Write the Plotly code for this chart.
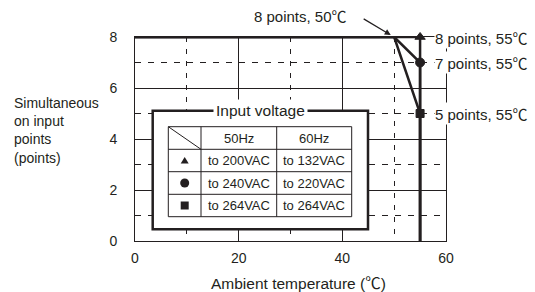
import plotly.graph_objects as go

# ---- data ----
temp_tri = [0, 55, 55]
pts_tri = [8, 8, 0]
temp_cir = [0, 50, 55, 55]
pts_cir = [8, 8, 7, 0]
temp_sq = [0, 50, 55, 55]
pts_sq = [8, 8, 5, 0]

x_ticks = [0, 20, 40, 60]
y_ticks = [0, 2, 4, 6, 8]

DEG = "<span style='font-family:Noto Sans CJK JP'>℃</span>"
point_labels = ["8 points, 55" + DEG, "7 points, 55" + DEG, "5 points, 55" + DEG]
label_y = [8, 7, 5]
top_label = "8 points, 50" + DEG

table_header = ["50Hz", "60Hz"]
table_50 = ["to 200VAC", "to 240VAC", "to 264VAC"]
table_60 = ["to 132VAC", "to 220VAC", "to 264VAC"]

INK = "#231f20"
FONT = "Liberation Sans, Arial, sans-serif"

# pixel -> paper helpers (decorations only)
def PX(px):
    return (px - 135) / 311

def PY(py):
    return (241 - py) / 204

fig = go.Figure()
for xs, ys, sym, sz in [(temp_tri, pts_tri, "triangle-up", 9),
                        (temp_cir, pts_cir, "circle", 9),
                        (temp_sq, pts_sq, "square", 8)]:
    n = len(xs)
    fig.add_trace(go.Scatter(
        x=xs, y=ys, mode="lines+markers",
        line=dict(color=INK, width=2.5),
        marker=dict(symbol=sym, size=[0] * (n - 2) + [sz, 0], color=INK, opacity=1,
                    line=dict(width=1, color=INK)),
        cliponaxis=False, showlegend=False, hoverinfo="skip"))

def line(x0, y0, x1, y1, w=1):
    return dict(type="line", xref="paper", yref="paper", x0=PX(x0), x1=PX(x1), y0=PY(y0), y1=PY(y1),
                line=dict(color=INK, width=w), layer="above")

shapes = []
shapes.append(dict(type="rect", xref="paper", yref="paper", x0=PX(152.7), x1=PX(368), y0=PY(110.7), y1=PY(229.3),
                   line=dict(color=INK, width=2.5), fillcolor="white", layer="above"))
shapes.append(dict(type="rect", xref="paper", yref="paper", x0=PX(168.3), x1=PX(351.7), y0=PY(126.7), y1=PY(216.7),
                   line=dict(color=INK, width=1), layer="above"))
for py in [149.3, 171.7, 194.3]:
    shapes.append(line(168.3, py, 351.7, py))
for px in [201, 276.7]:
    shapes.append(line(px, 126.7, px, 216.7))
shapes.append(line(168.3, 126.7, 201, 149.3))
cx = 184.7
ty = 160.5
shapes.append(dict(type="path", xref="paper", yref="paper",
                   path=f"M {PX(cx-4)} {PY(ty+3)} L {PX(cx+4)} {PY(ty+3)} L {PX(cx)} {PY(ty-3.5)} Z",
                   fillcolor=INK, line=dict(width=0), layer="above"))
cy = 183
shapes.append(dict(type="circle", xref="paper", yref="paper", x0=PX(cx-4.5), x1=PX(cx+4.5), y0=PY(cy-4.5), y1=PY(cy+4.5),
                   fillcolor=INK, line=dict(width=0), layer="above"))
sy = 205.5
shapes.append(dict(type="rect", xref="paper", yref="paper", x0=PX(cx-4), x1=PX(cx+4), y0=PY(sy-4), y1=PY(sy+4),
                   fillcolor=INK, line=dict(width=0), layer="above"))

def ann(px, py, text, size, **kw):
    d = dict(x=PX(px), y=PY(py), xref="paper", yref="paper", text=text, showarrow=False,
             xanchor="center", yanchor="middle",
             font=dict(family=FONT, size=size, color=INK))
    d.update(kw)
    return d

annotations = []
annotations.append(ann(260, 110.7, "Input voltage", 15.5, bgcolor="white", borderpad=2))
annotations.append(ann(239, 138, table_header[0], 13))
annotations.append(ann(314, 138, table_header[1], 13))
for i, ry in enumerate([160.5, 183, 205.5]):
    annotations.append(ann(239, ry, table_50[i], 13))
    annotations.append(ann(314, ry, table_60[i], 13))
for t, yv in zip(point_labels, label_y):
    annotations.append(dict(x=PX(434), y=yv, xref="paper", yref="y", text=t, showarrow=False,
                            xanchor="left", yanchor="middle",
                            font=dict(family=FONT, size=15, color=INK), bgcolor="white", borderpad=0))
annotations.append(ann(300, 16, top_label, 15))
annotations.append(dict(x=50, y=8, xref="x", yref="y", text="", showarrow=True, ax=-32, ay=-19,
                        arrowhead=2, arrowsize=1, arrowwidth=1.2, arrowcolor=INK, standoff=4))
annotations.append(ann(298, 282, "Ambient temperature (" + DEG + ")", 15.5))
annotations.append(ann(12, 130, "Simultaneous<br>on input<br>points<br>(points)", 14, xanchor="left", align="left"))

fig.update_layout(
    width=535, height=292,
    margin=dict(l=135, r=89, t=37, b=51),
    paper_bgcolor="white", plot_bgcolor="white",
    shapes=shapes, annotations=annotations,
    font=dict(family=FONT, size=14, color=INK),
)
fig.update_xaxes(range=[0, 60], tickvals=x_ticks, showline=True, mirror=True, linecolor=INK, linewidth=1,
                 showgrid=True, gridcolor=INK, gridwidth=1, automargin=False,
                 ticks="outside", ticklen=4, tickcolor="rgba(0,0,0,0)",
                 minor=dict(dtick=10, tick0=0, showgrid=True, gridcolor=INK, gridwidth=1, griddash="5px,7px"),
                 zeroline=False, tickfont=dict(family=FONT, size=14, color=INK))
fig.update_yaxes(range=[0, 8], tickvals=y_ticks, showline=True, mirror=True, linecolor=INK, linewidth=1,
                 showgrid=True, gridcolor=INK, gridwidth=1, automargin=False,
                 ticks="outside", ticklen=14, tickcolor="rgba(0,0,0,0)",
                 minor=dict(dtick=1, tick0=0, showgrid=True, gridcolor=INK, gridwidth=1, griddash="6px,7px"),
                 zeroline=False, tickfont=dict(family=FONT, size=14, color=INK))

fig.write_html("out.html", config={"displayModeBar": False},
               post_script="document.body.style.margin='0';")
